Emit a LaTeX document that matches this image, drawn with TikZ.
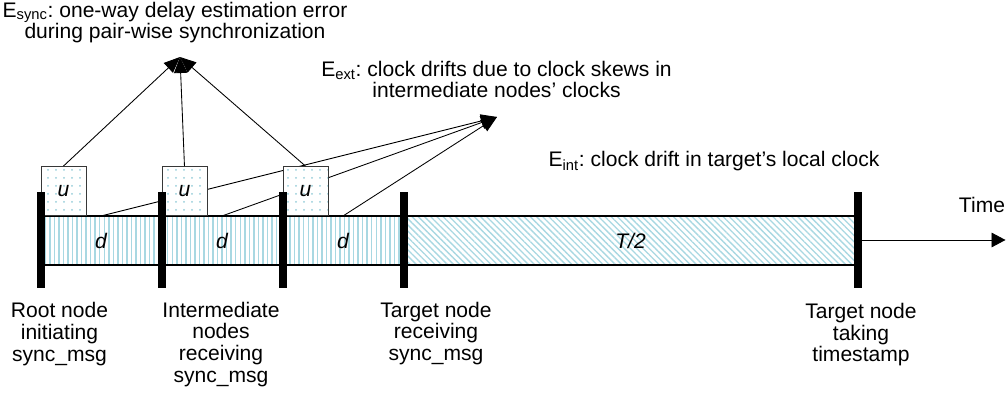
\documentclass[tikz,border=0pt]{standalone}
\usepackage{fontspec}
\setmainfont{Liberation Sans}
\usetikzlibrary{arrows.meta,patterns.meta}
\definecolor{stripe}{RGB}{168,216,226}
\definecolor{dotc}{RGB}{150,205,218}
\definecolor{boxedge}{RGB}{55,55,55}
\frenchspacing
\begin{document}
\begin{tikzpicture}[x=0.75pt,y=-0.75pt,
  txt/.style={font=\fontsize{15.8}{16.2}\selectfont, inner sep=0pt, align=center},
  itl/.style={font=\fontsize{15.8}{16.2}\selectfont\itshape, inner sep=0pt},
  bar/.style={fill=black, draw=none, minimum width=6pt, minimum height=72pt, inner sep=0pt},
  ubox/.style={draw=boxedge, line width=0.7pt, fill=white,
    postaction={pattern={Dots[distance=6pt,radius=0.75pt]}, pattern color=dotc},
    minimum width=33.75pt, minimum height=36.75pt, inner sep=0pt,
    font=\fontsize{15.8}{16.2}\selectfont\itshape},
  conn/.style={line width=0.65pt, -{Triangle[length=12pt,width=10pt]}},
  tarrow/.style={line width=0.7pt, -{Triangle[length=10.5pt,width=11pt]}},
  border/.style={line width=1.1pt},
]
\useasboundingbox (0,0) rectangle (1006,402);

% key coordinates
\coordinate (es) at (180,57);
\coordinate (ee) at (497,117);
\coordinate (t1) at (101,216);
\coordinate (t2) at (222,216);
\coordinate (t3) at (343,216);
\coordinate (tend) at (1005.5,240);

% E_ext connectors (behind everything)
\draw[conn] (t1) -- (ee);
\draw[conn] (t2) -- (ee);
\draw[conn] (t3) -- (ee);

% bands
\fill[white] (40.5,216) rectangle (857.5,265);
\path[pattern={Lines[angle=90,distance=3.4pt,line width=1.1pt]}, pattern color=stripe]
  (40.5,216) rectangle (403.5,265);
\path[pattern={Lines[angle=-45,distance=3.3pt,line width=1pt]}, pattern color=stripe]
  (403.5,216) rectangle (857.5,265);
\draw[border] (40.5,216) -- (857.5,216);
\draw[border] (40.5,265) -- (857.5,265);

% band labels
\node[itl] (d1) at (101,240.5) {d};
\node[itl] (d2) at (222,240.5) {d};
\node[itl] (d3) at (343,240.5) {d};
\node[itl] (half) at (630.5,240.5) {T/2};

% u boxes
\node[ubox, anchor=south west] (u1) at (40.5,216) {u};
\node[ubox, anchor=south west] (u2) at (161.5,216) {u};
\node[ubox, anchor=south west] (u3) at (282.5,216) {u};

% bars
\node[bar] (b1) at (40.5,240) {};
\node[bar] (b2) at (161.5,240) {};
\node[bar] (b3) at (282.5,240) {};
\node[bar] (b4) at (403.5,240) {};
\node[bar] (b5) at (857.5,240) {};

% time arrow
\draw[tarrow] (b5) -- (tend);

% E_sync connectors
\draw[conn] (u1.north) -- (es);
\draw[conn] (u2.north) -- (es);
\draw[conn] (u3.north) -- (es);

% texts
\node[txt, anchor=north] (esync) at (175,1.5)
  {E\textsubscript{sync}: one-way delay estimation error\\during pair-wise synchronization};
\node[txt, anchor=north] (eext) at (496.5,60.8)
  {E\textsubscript{ext}: clock drifts due to clock skews in\\intermediate nodes’ clocks};
\node[txt, anchor=base] (eint) at (714,166.7)
  {E\textsubscript{int}: clock drift in target’s local clock};
\node[txt, anchor=base] (time) at (982,212.7) {Time};

\node[txt, anchor=north] (lroot) at (59.5,302.3) {Root node\\initiating\\sync\_msg};
\node[txt, anchor=north] (linter) at (221,301.8) {Intermediate\\nodes\\receiving\\sync\_msg};
\node[txt, anchor=north] (ltrecv) at (436,301.8) {Target node\\receiving\\sync\_msg};
\node[txt, anchor=north] (lttake) at (861,303) {Target node\\taking\\timestamp};
\end{tikzpicture}
\end{document}
